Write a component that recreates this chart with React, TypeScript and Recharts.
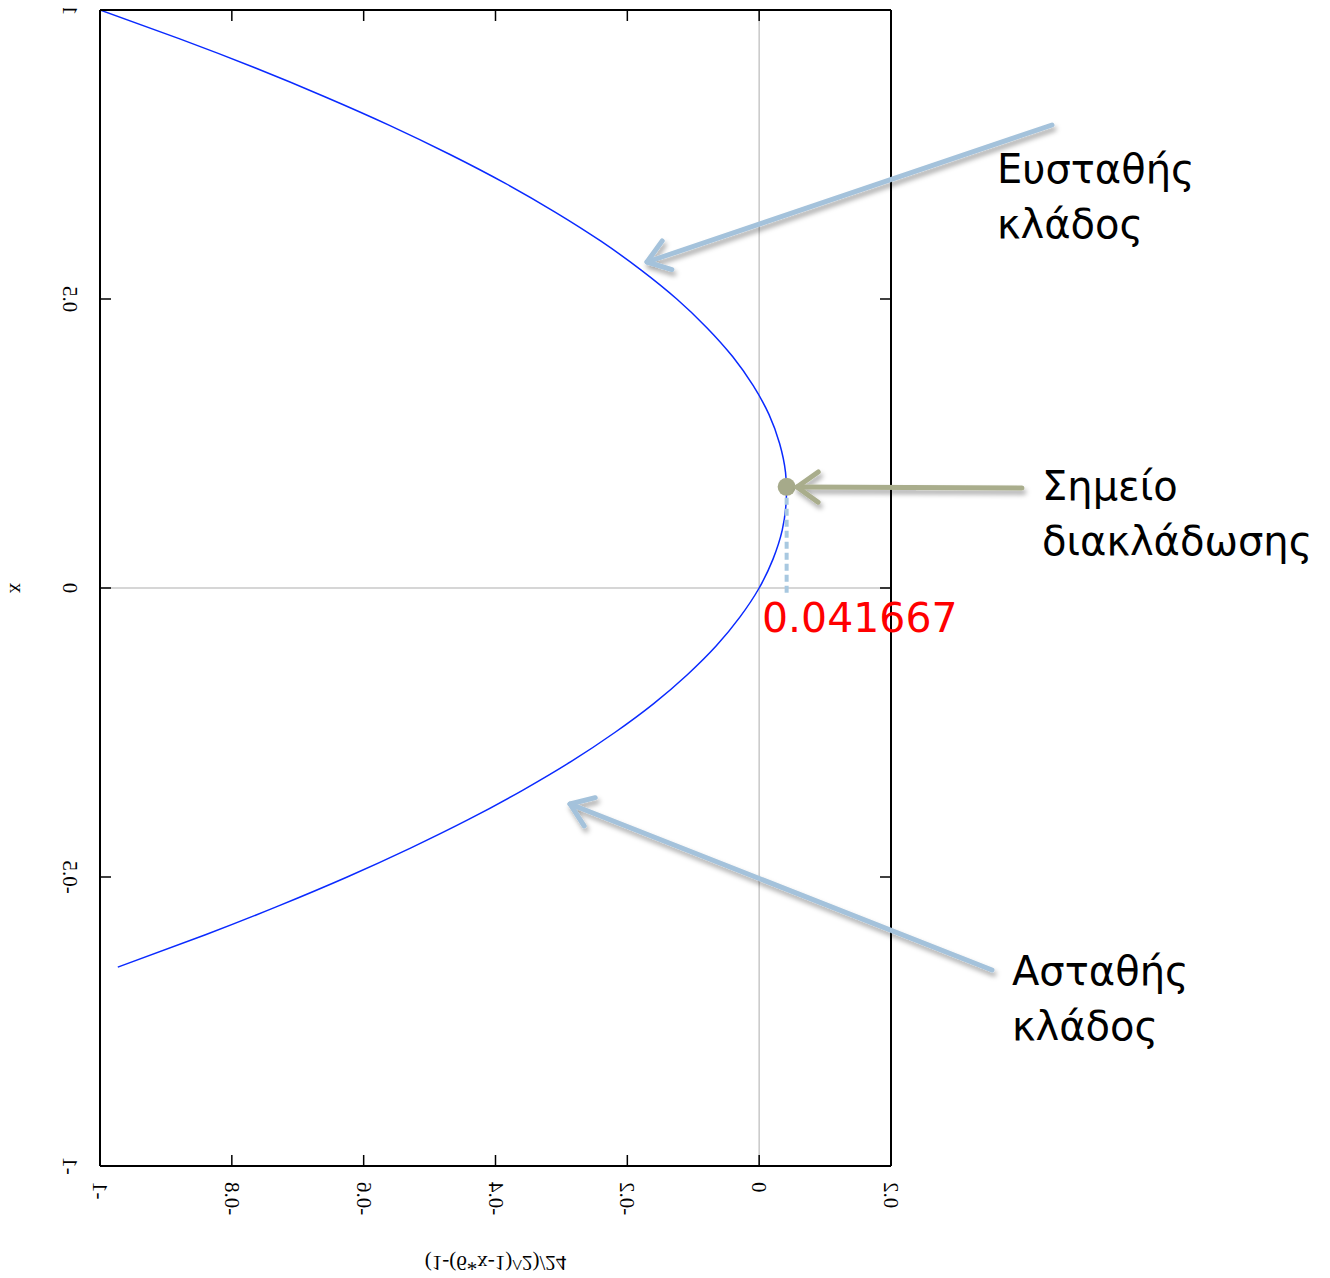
import React from 'react'
import { LineChart, Line, XAxis, YAxis, ReferenceLine, ReferenceDot } from 'recharts'

// points, from the top end (stable branch) to the bottom end (unstable branch)
const curveX = [-1.0, -0.879, -0.765, -0.659, -0.56, -0.469, -0.385, -0.309, -0.24, -0.179, -0.125, -0.079, -0.04, -0.009, 0.015, 0.031, 0.04, 0.041, 0.035, 0.021, 0, -0.029, -0.065, -0.109, -0.16, -0.219, -0.285, -0.359, -0.44, -0.529, -0.625, -0.729, -0.84, -0.973]
const curveY = [1.0, 0.95, 0.9, 0.85, 0.8, 0.75, 0.7, 0.65, 0.6, 0.55, 0.5, 0.45, 0.4, 0.35, 0.3, 0.25, 0.2, 0.15, 0.1, 0.05, 0, -0.05, -0.1, -0.15, -0.2, -0.25, -0.3, -0.35, -0.4, -0.45, -0.5, -0.55, -0.6, -0.656]

const xTicks = [-1, -0.8, -0.6, -0.4, -0.2, 0, 0.2]
const yTicks = [-1, -0.5, 0, 0.5, 1]

// bifurcation point marker
const bifX = 0.041667
const bifY = 0.175
const bifLabel = '0.041667'

const stableLabel = ['Ευσταθής', 'κλάδος']
const bifTitle = ['Σημείο', 'διακλάδωσης']
const unstableLabel = ['Ασταθής', 'κλάδος']

const xTitle = '(1-(6*x-1)^2)/24'
const yTitle = 'x'

const data = curveX.map((x, i) => ({ x, y: curveY[i] }))

const W = 1322
const H = 1270
const SERIF = '"Liberation Serif", "DejaVu Serif", serif'
const SANS = '"DejaVu Sans", "Noto Sans", sans-serif'
const ARROW_BLUE = '#a4c2db'
const ARROW_OLIVE = '#a9ad8c'

// labels in this picture are mirrored across the anti-diagonal
const flip = (x: number, y: number) => `translate(${x},${y}) matrix(0,-1,-1,0,0,0)`

// eslint-disable-next-line @typescript-eslint/no-explicit-any
function BottomTick({ x, y, payload }: any) {
  return (
    <g>
      <line x1={x} y1={y} x2={x} y2={y - 11} stroke="#000" strokeWidth={1.5} />
      <g transform={flip(x, y + 16)}>
        <text textAnchor="end" dominantBaseline="central" fontFamily={SERIF} fontSize={21} fill="#000">
          {String(payload.value)}
        </text>
      </g>
    </g>
  )
}

// eslint-disable-next-line @typescript-eslint/no-explicit-any
function LeftTick({ x, y, payload }: any) {
  return (
    <g>
      <line x1={x} y1={y} x2={x + 11} y2={y} stroke="#000" strokeWidth={1.5} />
      <g transform={flip(x - 30, y)}>
        <text textAnchor="middle" dominantBaseline="central" fontFamily={SERIF} fontSize={21} fill="#000">
          {String(payload.value)}
        </text>
      </g>
    </g>
  )
}

// eslint-disable-next-line @typescript-eslint/no-explicit-any
function TopTick({ x, y }: any) {
  return <line x1={x} y1={y} x2={x} y2={y + 11} stroke="#000" strokeWidth={1.5} />
}

// eslint-disable-next-line @typescript-eslint/no-explicit-any
function RightTick({ x, y }: any) {
  return <line x1={x} y1={y} x2={x - 11} y2={y} stroke="#000" strokeWidth={1.5} />
}

function Arrow({ x1, y1, x2, y2, color }: { x1: number; y1: number; x2: number; y2: number; color: string }) {
  const ang = Math.atan2(y1 - y2, x1 - x2)
  const L = 26
  const s = 0.62
  const a = { x: x2 + L * Math.cos(ang + s), y: y2 + L * Math.sin(ang + s) }
  const b = { x: x2 + L * Math.cos(ang - s), y: y2 + L * Math.sin(ang - s) }
  return (
    <g filter="url(#arrowShadow)" stroke={color} strokeWidth={5} strokeLinecap="round" strokeLinejoin="round" fill="none">
      <line x1={x1} y1={y1} x2={x2} y2={y2} />
      <polyline points={`${a.x},${a.y} ${x2},${y2} ${b.x},${b.y}`} />
    </g>
  )
}

function TextBlock({ x, y, lines }: { x: number; y: number; lines: string[] }) {
  return (
    <text x={x} y={y} fontFamily={SANS} fontSize={40} fill="#000">
      {lines.map((l, i) => (
        <tspan key={i} x={x} dy={i === 0 ? 0 : 55}>
          {l}
        </tspan>
      ))}
    </text>
  )
}

export default function App() {
  return (
    <div style={{ position: 'relative', width: W, height: H }}>
      <LineChart width={W} height={H} data={data} margin={{ top: 1, right: 429, bottom: 2, left: 0 }}>
        <XAxis
          xAxisId="b"
          dataKey="x"
          type="number"
          domain={[-1, 0.2]}
          ticks={xTicks}
          interval={0}
          allowDataOverflow
          height={110}
          tickSize={0}
          tickMargin={0}
          tickLine={false}
          tick={<BottomTick />}
          axisLine={{ stroke: '#000', strokeWidth: 2 }}
          label={{
            // eslint-disable-next-line @typescript-eslint/no-explicit-any
            content: (p: any) => {
              const vb = p && p.viewBox && p.viewBox.width ? p.viewBox : { x: 92, y: 1158, width: 791 }
              return (
                <g transform={`translate(${vb.x + vb.width / 2},${vb.y + 97}) scale(1,-1)`}>
                  <text textAnchor="middle" dominantBaseline="central" fontFamily={SERIF} fontSize={21} fill="#000">
                    {xTitle}
                  </text>
                </g>
              )
            },
          }}
        />
        <XAxis
          xAxisId="t"
          orientation="top"
          dataKey="x"
          type="number"
          domain={[-1, 0.2]}
          ticks={xTicks}
          interval={0}
          allowDataOverflow
          height={1}
          tickSize={0}
          tickMargin={0}
          tickLine={false}
          tick={<TopTick />}
          axisLine={{ stroke: '#000', strokeWidth: 2 }}
        />
        <YAxis
          yAxisId="l"
          type="number"
          domain={[-1, 1]}
          ticks={yTicks}
          interval={0}
          allowDataOverflow
          width={92}
          tickSize={0}
          tickMargin={0}
          tickLine={false}
          tick={<LeftTick />}
          axisLine={{ stroke: '#000', strokeWidth: 2 }}
          label={{
            // eslint-disable-next-line @typescript-eslint/no-explicit-any
            content: (p: any) => {
              const vb = p && p.viewBox && p.viewBox.height ? p.viewBox : { x: 0, y: 2, height: 1156 }
              return (
                <g transform={flip(vb.x + 9, vb.y + vb.height / 2)}>
                  <text textAnchor="middle" dominantBaseline="central" fontFamily={SERIF} fontSize={21} fill="#000">
                    {yTitle}
                  </text>
                </g>
              )
            },
          }}
        />
        <YAxis
          yAxisId="r"
          orientation="right"
          type="number"
          domain={[-1, 1]}
          ticks={yTicks}
          interval={0}
          allowDataOverflow
          width={10}
          tickSize={0}
          tickMargin={0}
          tickLine={false}
          tick={<RightTick />}
          axisLine={{ stroke: '#000', strokeWidth: 2 }}
        />
        <ReferenceLine xAxisId="b" yAxisId="l" x={0} stroke="#c8c8c8" strokeWidth={1.5} />
        <ReferenceLine xAxisId="b" yAxisId="l" y={0} stroke="#c8c8c8" strokeWidth={1.5} />
        <Line
          xAxisId="b"
          yAxisId="l"
          type="natural"
          dataKey="y"
          stroke="#0a2aff"
          strokeWidth={1.5}
          dot={false}
          activeDot={false}
          isAnimationActive={false}
        />
        <ReferenceLine
          xAxisId="b"
          yAxisId="l"
          segment={[{ x: bifX, y: bifY }, { x: bifX, y: -0.01 }]}
          stroke="#a8c8e0"
          strokeWidth={4}
          strokeDasharray="7 4"
          ifOverflow="visible"
        />
        <ReferenceDot xAxisId="b" yAxisId="l" x={bifX} y={bifY} r={9} fill="#a6aa8a" stroke="none" ifOverflow="visible" />
      </LineChart>
      <svg width={W} height={H} style={{ position: 'absolute', left: 0, top: 0, pointerEvents: 'none' }}>
        <defs>
          <filter id="arrowShadow" x="-20%" y="-40%" width="140%" height="180%">
            <feDropShadow dx="2" dy="4" stdDeviation="2.5" floodColor="#000" floodOpacity="0.35" />
          </filter>
        </defs>
        <Arrow x1={1044} y1={117} x2={639} y2={254} color={ARROW_BLUE} />
        <Arrow x1={1014} y1={480} x2={789} y2={479} color={ARROW_OLIVE} />
        <Arrow x1={984} y1={962} x2={562} y2={796} color={ARROW_BLUE} />
        <TextBlock x={989} y={175} lines={stableLabel} />
        <TextBlock x={1034} y={492} lines={bifTitle} />
        <TextBlock x={1004} y={977} lines={unstableLabel} />
        <text x={754} y={624} fontFamily={SANS} fontSize={41} fill="#ff0000">
          {bifLabel}
        </text>
      </svg>
    </div>
  )
}
